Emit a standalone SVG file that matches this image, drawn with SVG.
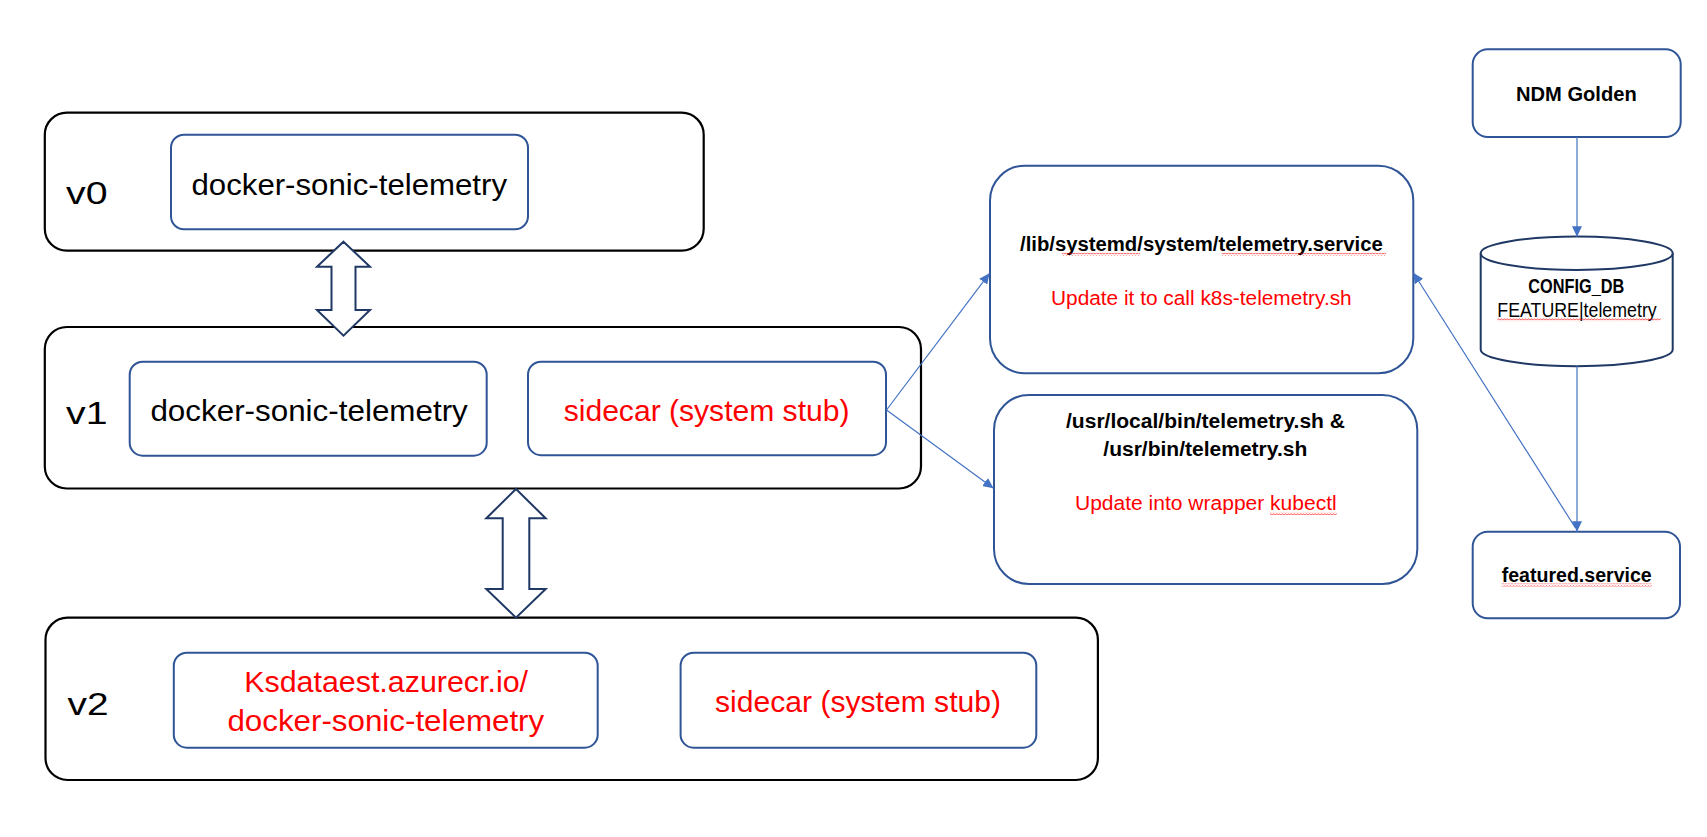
<svg xmlns="http://www.w3.org/2000/svg" width="1707" height="837" viewBox="0 0 1707 837">
<defs>
<style>
.outer{fill:#fff;stroke:#000;stroke-width:2.2}
.box{fill:#fff;stroke:#2F5597;stroke-width:2}
.big{font-family:"Liberation Sans",Arial,sans-serif;font-size:30px;fill:#000}
.ver{font-family:"Liberation Sans",Arial,sans-serif;font-size:32px;fill:#000}
.sm{font-family:"Liberation Sans",Arial,sans-serif;font-size:20px;fill:#000}
.b{font-weight:bold}
.red{fill:#FF0000}
.conn{fill:none;stroke:#4472C4;stroke-width:1.2}
.dbl{fill:#fff;stroke:#1F3864;stroke-width:2}
.cyl{fill:#fff;stroke:#1F3864;stroke-width:2}
</style>
<marker id="ah" markerUnits="userSpaceOnUse" markerWidth="11" markerHeight="10" refX="10.5" refY="5" orient="auto">
<path d="M0 0 L10.5 5 L0 10 Z" fill="#4472C4"/>
</marker>
<pattern id="squig" patternUnits="userSpaceOnUse" width="3" height="3">
<path d="M0 2.4 L1.5 0.6 L3 2.4" fill="none" stroke="#FF0000" stroke-width="0.7"/>
</pattern>
</defs>
<rect width="1707" height="837" fill="#fff"/>

<g id="v0">
<rect class="outer" x="44.8" y="112.7" width="658.9" height="138" rx="22"/>
<text class="ver" x="66" y="204" textLength="41.5" lengthAdjust="spacingAndGlyphs">v0</text>
</g>
<g id="v0-docker">
<rect class="box" x="171" y="134.7" width="357" height="94.6" rx="13"/>
<text class="big" x="191.5" y="195" textLength="315.5" lengthAdjust="spacingAndGlyphs">docker-sonic-telemetry</text>
</g>

<g id="v1">
<rect class="outer" x="44.8" y="327" width="876.2" height="161.5" rx="22"/>
<text class="ver" x="66" y="424" textLength="41.5" lengthAdjust="spacingAndGlyphs">v1</text>
</g>
<g id="v1-docker">
<rect class="box" x="129.7" y="361.7" width="357" height="94" rx="13"/>
<text class="big" x="150.4" y="420.5" textLength="317.4" lengthAdjust="spacingAndGlyphs">docker-sonic-telemetry</text>
</g>
<g id="v1-sidecar">
<rect class="box" x="528" y="361.7" width="358" height="93.5" rx="13"/>
<text class="big red" x="563.7" y="420.5" textLength="285.8" lengthAdjust="spacingAndGlyphs">sidecar (system stub)</text>
</g>

<g id="v2">
<rect class="outer" x="45.5" y="617.7" width="1052.4" height="162.3" rx="22"/>
<text class="ver" x="67.5" y="714.5" textLength="41" lengthAdjust="spacingAndGlyphs">v2</text>
</g>
<g id="v2-image">
<rect class="box" x="173.8" y="652.7" width="423.9" height="95" rx="13"/>
<text class="big red" x="244.2" y="692" textLength="283.8" lengthAdjust="spacingAndGlyphs">Ksdataest.azurecr.io/</text>
<text class="big red" x="227.4" y="731.3" textLength="316.8" lengthAdjust="spacingAndGlyphs">docker-sonic-telemetry</text>
</g>
<g id="v2-sidecar">
<rect class="box" x="680.6" y="652.7" width="355.7" height="95" rx="13"/>
<text class="big red" x="715" y="712" textLength="286" lengthAdjust="spacingAndGlyphs">sidecar (system stub)</text>
</g>

<g id="telemetry-service">
<rect class="box" x="990" y="165.7" width="423.3" height="207.6" rx="35"/>
<text class="sm b" x="1020" y="250.7" textLength="362.7" lengthAdjust="spacingAndGlyphs">/lib/systemd/system/telemetry.service</text>
<rect x="1061.7" y="252.8" width="78.3" height="3" fill="url(#squig)"/>
<rect x="1221.7" y="252.8" width="164.3" height="3" fill="url(#squig)"/>
<text class="sm red" x="1051" y="305" font-size="21" textLength="300.7" lengthAdjust="spacingAndGlyphs">Update it to call k8s-telemetry.sh</text>
</g>

<g id="telemetry-sh">
<rect class="box" x="994" y="395" width="423.3" height="189" rx="35"/>
<text class="sm b" x="1066" y="428.3" textLength="279" lengthAdjust="spacingAndGlyphs">/usr/local/bin/telemetry.sh &amp;</text>
<text class="sm b" x="1103.3" y="456" textLength="204" lengthAdjust="spacingAndGlyphs">/usr/bin/telemetry.sh</text>
<text class="sm red" x="1075" y="510" font-size="21" textLength="261.7" lengthAdjust="spacingAndGlyphs">Update into wrapper kubectl</text>
<rect x="1270" y="512" width="66.7" height="3" fill="url(#squig)"/>
</g>

<g id="ndm-golden">
<rect class="box" x="1472.7" y="49.3" width="208" height="87.7" rx="15"/>
<text class="sm b" x="1516" y="101" textLength="120.7" lengthAdjust="spacingAndGlyphs">NDM Golden</text>
</g>

<g id="config-db">
<path class="cyl" d="M1480.7 253.3 L1480.7 349.5 A96 16.7 0 0 0 1672.7 349.5 L1672.7 253.3"/>
<ellipse class="cyl" cx="1576.7" cy="253.3" rx="96" ry="16.7"/>
<text class="sm b" x="1528.3" y="292.7" font-size="17" textLength="96" lengthAdjust="spacingAndGlyphs">CONFIG_DB</text>
<text class="sm" x="1497.3" y="317" font-size="18" textLength="159.4" lengthAdjust="spacingAndGlyphs">FEATURE|telemetry</text>
<rect x="1497.3" y="318.2" width="163.4" height="3" fill="url(#squig)"/>
</g>

<g id="featured-service">
<rect class="box" x="1472.7" y="531.7" width="207.3" height="86.6" rx="15"/>
<text class="sm b" x="1501.7" y="581.7" textLength="150" lengthAdjust="spacingAndGlyphs">featured.service</text>
<rect x="1501.7" y="583.5" width="150" height="3" fill="url(#squig)"/>
</g>

<g id="connectors">
<path class="dbl" d="M343.5 241.7 L370 266.7 L355.5 266.7 L355.5 310 L370 310 L343.5 335.7 L317 310 L331.5 310 L331.5 266.7 L317 266.7 Z"/>
<path class="dbl" d="M516 489 L545.7 518.3 L529.3 518.3 L529.3 589 L545.7 589 L516 617.7 L486.3 589 L502.7 589 L502.7 518.3 L486.3 518.3 Z"/>
<path class="conn" d="M886.5 410 L989.5 273.3" marker-end="url(#ah)"/>
<path class="conn" d="M886.5 410 L993.5 488.3" marker-end="url(#ah)"/>
<path class="conn" d="M1577 137 L1577 236.7" marker-end="url(#ah)"/>
<path class="conn" d="M1577 366 L1577 531.7" marker-end="url(#ah)"/>
<path class="conn" d="M1575.5 528 L1413.3 272.7" marker-end="url(#ah)"/>
</g>
</svg>
